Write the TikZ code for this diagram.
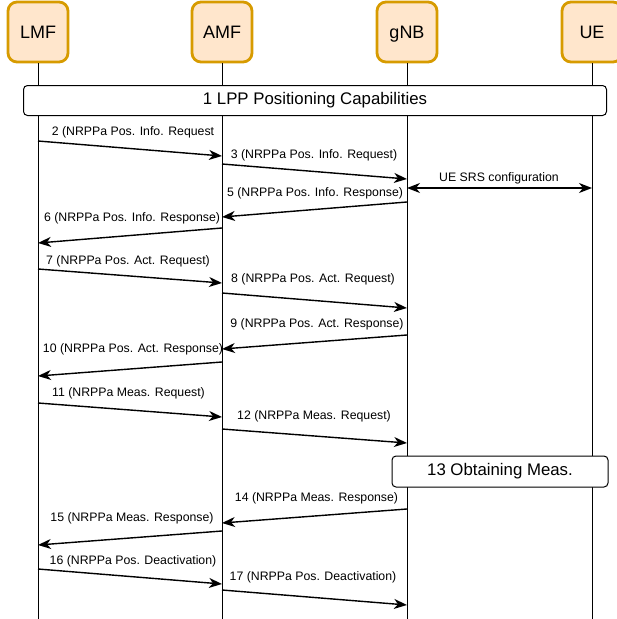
\documentclass[tikz,border=0pt]{standalone}
\usepackage{fontspec}
\setmainfont{Liberation Sans}
\usetikzlibrary{arrows.meta}
\definecolor{boxfill}{HTML}{FFE6CC}
\definecolor{boxdraw}{HTML}{D79B00}
\begin{document}
\begin{tikzpicture}[x=1pt,y=-1pt,
  actor/.style={draw=boxdraw, fill=boxfill, line width=2.8pt, rounded corners=9pt,
    minimum width=60pt, minimum height=60pt, inner sep=0pt, text height=14pt, text depth=2pt,
    font=\fontsize{18}{20}\selectfont},
  lifeline/.style={line width=1pt},
  phase/.style={draw, fill=white, line width=1pt, rounded corners=4pt, inner sep=0pt,
    font=\fontsize{16.8}{19}\selectfont},
  msg/.style={line width=1.4pt, -{Stealth[length=13pt,width=10pt,inset=4pt]}},
  dmsg/.style={line width=1.4pt, {Stealth[length=13pt,width=10pt,inset=4pt]}-{Stealth[length=13pt,width=10pt,inset=4pt]}},
  lbl/.style={font=\fontsize{12.3}{14}\selectfont, inner sep=0pt},
]
\useasboundingbox (0,0) rectangle (617,619);
% actors
\node[actor] (lmf) at (38,32) {LMF};
\node[actor] (amf) at (222,32) {AMF};
\node[actor] (gnb) at (407,32) {gNB};
\node[actor] (ue)  at (592,32) {UE};
% lifelines
\coordinate (lmfend) at (38,619);
\coordinate (amfend) at (222,619);
\coordinate (gnbend) at (407,619);
\coordinate (ueend)  at (592,619);
\draw[lifeline] (lmf.south) -- (lmfend);
\draw[lifeline] (amf.south) -- (amfend);
\draw[lifeline] (gnb.south) -- (gnbend);
\draw[lifeline] (ue.south) -- (ueend);
% phase boxes
\node[phase, minimum width=583pt, minimum height=30pt] (lpp) at (315,100.5) {1 LPP Positioning Capabilities};
\node[phase, minimum width=216pt, minimum height=31pt] (obt) at (500,471.5) {13 Obtaining Meas.};
% messages
\draw[msg] (lmf |- 0,141) -- (amf |- 0,156);
\node[lbl] (l2) at (133,132) {2 (NRPPa Pos. Info. Request};
\draw[msg] (amf |- 0,164) -- (gnb |- 0,179);
\node[lbl] (l3) at (314,155) {3 (NRPPa Pos. Info. Request)};
\draw[dmsg] (gnb |- 0,188) -- (ue |- 0,188);
\node[lbl] (lsrs) at (499,178) {UE SRS configuration};
\draw[msg] (gnb |- 0,202) -- (amf |- 0,217);
\node[lbl] (l5) at (315,193) {5 (NRPPa Pos. Info. Response)};
\draw[msg] (amf |- 0,228) -- (lmf |- 0,243);
\node[lbl] (l6) at (132,218) {6 (NRPPa Pos. Info. Response)};
\draw[msg] (lmf |- 0,269) -- (amf |- 0,283);
\node[lbl] (l7) at (128,261) {7 (NRPPa Pos. Act. Request)};
\draw[msg] (amf |- 0,293) -- (gnb |- 0,308);
\node[lbl] (l8) at (313,279) {8 (NRPPa Pos. Act. Request)};
\draw[msg] (gnb |- 0,335) -- (amf |- 0,349);
\node[lbl] (l9) at (317,324) {9 (NRPPa Pos. Act. Response)};
\draw[msg] (amf |- 0,362) -- (lmf |- 0,376);
\node[lbl] (l10) at (133,349) {10 (NRPPa Pos. Act. Response)};
\draw[msg] (lmf |- 0,403) -- (amf |- 0,417);
\node[lbl] (l11) at (128.5,393) {11 (NRPPa Meas. Request)};
\draw[msg] (amf |- 0,429) -- (gnb |- 0,443);
\node[lbl] (l12) at (314,416) {12 (NRPPa Meas. Request)};
\draw[msg] (gnb |- 0,509) -- (amf |- 0,523);
\node[lbl] (l14) at (316.5,498) {14 (NRPPa Meas. Response)};
\draw[msg] (amf |- 0,531) -- (lmf |- 0,545);
\node[lbl] (l15) at (132,518) {15 (NRPPa Meas. Response)};
\draw[msg] (lmf |- 0,569) -- (amf |- 0,584);
\node[lbl] (l16) at (133,561) {16 (NRPPa Pos. Deactivation)};
\draw[msg] (amf |- 0,590) -- (gnb |- 0,605);
\node[lbl] (l17) at (313,577) {17 (NRPPa Pos. Deactivation)};
\end{tikzpicture}
\end{document}
